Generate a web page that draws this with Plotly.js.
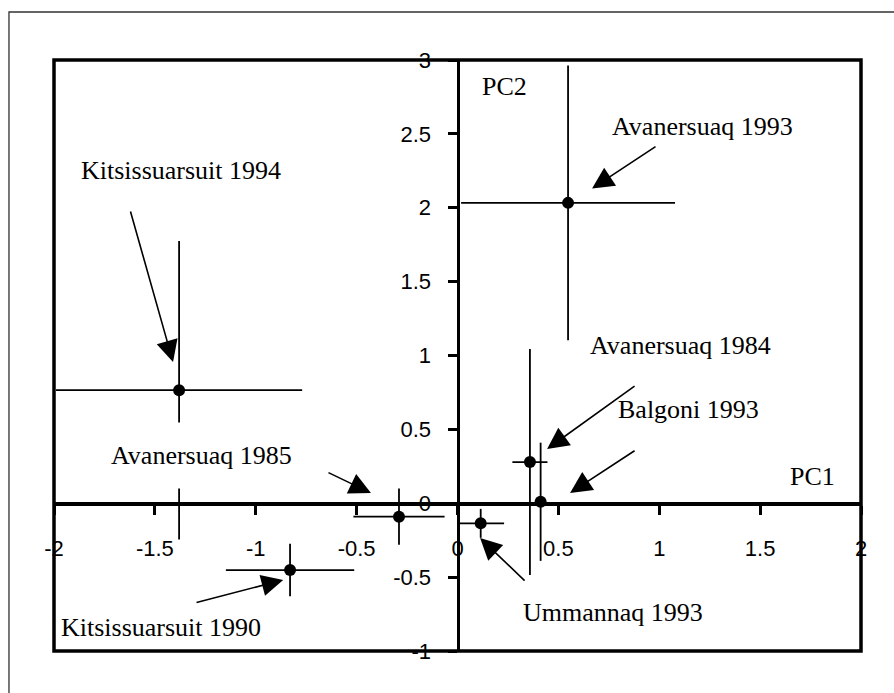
<!DOCTYPE html>
<html>
<head>
<meta charset="utf-8">
<script src="https://cdn.plot.ly/plotly-3.0.1.min.js"></script>
<style>html,body{margin:0;padding:0;background:#fff;}#chart{width:894px;height:693px;}</style>
</head>
<body>
<div id="chart"></div>
<script>
// Data (PC scores with error bars)
const sites = ["Kitsissuarsuit 1994", "Avanersuaq 1993", "Avanersuaq 1984", "Balgoni 1993", "Avanersuaq 1985", "Kitsissuarsuit 1990", "Ummannaq 1993"];
const pc1 = [-1.38, 0.548, 0.359, 0.412, -0.29, -0.83, 0.115];
const pc2 = [0.765, 2.033, 0.279, 0.01, -0.091, -0.452, -0.136];
const pc1Err = [0.61, 0.53, 0.087, 0.0, 0.226, 0.318, 0.116];
const pc2Err = [1.01, 0.93, 0.765, 0.40, 0.19, 0.178, 0.098];

// Label positions (data units) and arrow tails/tips
const labelX = [-1.37, 1.213, 1.103, 1.143, -1.27, -1.469, 0.771];
const labelY = [2.255, 2.547, 1.071, 0.635, 0.326, -0.838, -0.742];
const arrowTailX = [-1.623, 0.989, 0.885, 0.885, -0.647, -1.301, 0.340];
const arrowTailY = [1.985, 2.42, 0.80, 0.362, 0.212, -0.675, -0.533];
const arrowTipX = [-1.41, 0.667, 0.444, 0.558, -0.429, -0.864, 0.112];
const arrowTipY = [0.956, 2.13, 0.367, 0.07, 0.069, -0.519, -0.235];

const xTicks = [-2, -1.5, -1, -0.5, 0, 0.5, 1, 1.5, 2];
const xTickText = ["-2", "-1.5", "-1", "-0.5", "0", "0.5", "1", "1.5", "2"];
const yTicks = [-1, -0.5, 0, 0.5, 1, 1.5, 2, 2.5, 3];
const yTickText = ["-1", "-0.5", "0", "0.5", "1", "1.5", "2", "2.5", "3"];

const axisNames = ["PC1", "PC2"];
const axisNameX = [1.76, 0.235];
const axisNameY = [0.178, 2.824];

const trace = {
  type: "scatter",
  mode: "markers",
  x: pc1,
  y: pc2,
  text: sites,
  marker: {color: "#000", size: 12},
  error_x: {type: "data", array: pc1Err, symmetric: true, color: "#000", thickness: 1.8, width: 0},
  error_y: {type: "data", array: pc2Err, symmetric: true, color: "#000", thickness: 1.8, width: 0},
  hoverinfo: "text",
  cliponaxis: false
};

const serif = {family: "Liberation Serif, Times New Roman, serif", size: 26, color: "#000"};
const annotations = [];
sites.forEach((s, i) => {
  annotations.push({
    x: labelX[i], y: labelY[i], xref: "x", yref: "y", text: s, showarrow: false,
    font: serif, bgcolor: "#fff", borderpad: i === 4 ? 18 : 2, xanchor: "center", yanchor: "middle"
  });
});
axisNames.forEach((s, i) => {
  annotations.push({x: axisNameX[i], y: axisNameY[i], xref: "x", yref: "y", text: s, showarrow: false,
    font: serif, xanchor: "center", yanchor: "middle"});
});
sites.forEach((s, i) => {
  annotations.push({
    x: arrowTipX[i], y: arrowTipY[i], ax: arrowTailX[i], ay: arrowTailY[i],
    xref: "x", yref: "y", axref: "x", ayref: "y", text: "", showarrow: true,
    arrowhead: 2, arrowsize: 2.7, arrowwidth: 1.6, arrowcolor: "#000", standoff: 0
  });
});

const tickFont = {family: "Liberation Sans, Arial, sans-serif", size: 22, color: "#000"};
const layout = {
  width: 894, height: 693,
  margin: {l: 54, r: 33, t: 60, b: 42},
  paper_bgcolor: "#fff", plot_bgcolor: "#fff",
  showlegend: false,
  xaxis: {
    range: [-2, 2], anchor: "free", position: 0.25, showgrid: false, zeroline: false,
    showline: true, linewidth: 3.5, linecolor: "#000",
    ticks: "outside", ticklen: 9, tickwidth: 3, tickcolor: "#000",
    tickvals: xTicks, ticktext: xTickText, tickfont: tickFont, ticklabelstandoff: 15
  },
  yaxis: {
    range: [-1, 3], anchor: "free", position: 0.5, showgrid: false, zeroline: false,
    showline: true, linewidth: 3.5, linecolor: "#000",
    ticks: "outside", ticklen: 9, tickwidth: 3, tickcolor: "#000",
    tickvals: yTicks, ticktext: yTickText, tickfont: tickFont, ticklabelstandoff: 12
  },
  shapes: [
    {type: "rect", xref: "paper", yref: "paper", x0: 0, y0: 0, x1: 1, y1: 1, line: {color: "#000", width: 3.5}, layer: "above"},
    {type: "rect", xref: "paper", yref: "paper", x0: -0.0558, y0: -0.2, x1: 1.2, y1: 1.0812, line: {color: "#333", width: 1.3}, layer: "below"}
  ],
  annotations: annotations
};

Plotly.newPlot("chart", [trace], layout, {displayModeBar: false, staticPlot: true});
</script>
</body>
</html>
